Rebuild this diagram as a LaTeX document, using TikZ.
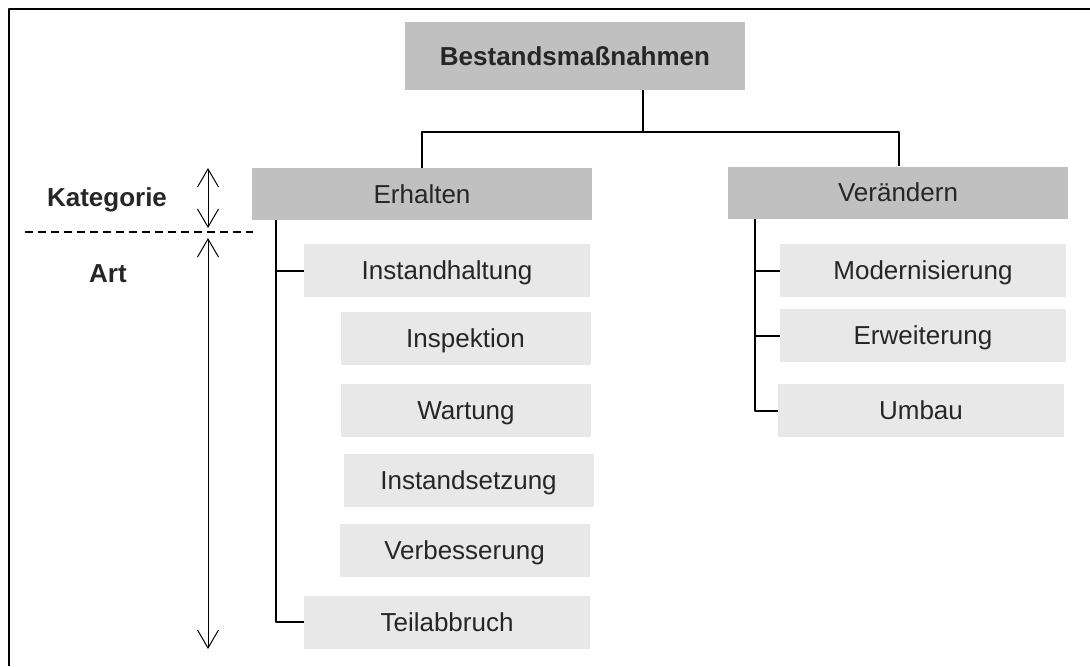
\documentclass[tikz,border=0pt]{standalone}
\usepackage{fontspec}
\setmainfont{Liberation Sans}
\usetikzlibrary{arrows.meta}
\definecolor{boxdark}{HTML}{C0C0C0}
\definecolor{boxlight}{HTML}{E8E8E8}
\definecolor{txt}{HTML}{262626}
\begin{document}
\begin{tikzpicture}[x=0.5pt,y=-0.5pt, font=\fontsize{13}{15}\selectfont, line join=round,
	box/.style={text=txt, inner sep=0pt, text height=9.3pt, text depth=0pt},
	topbox/.style={box, fill=boxdark, font=\fontsize{13}{15}\selectfont\bfseries, minimum width=170pt, minimum height=34pt},
	catbox/.style={box, fill=boxdark, minimum width=170pt, minimum height=26pt},
	artbox/.style={box, fill=boxlight, minimum width=143pt, minimum height=26.5pt},
	subbox/.style={artbox, minimum width=125pt},
	conn/.style={line width=1pt, black},
	span/.style={line width=0.5pt, {Straight Barb[length=9pt,width=10.5pt]}-{Straight Barb[length=9pt,width=10.5pt]}}]
	\useasboundingbox (0,0) rectangle (1090,666);
	% --- Rahmen ---
	\draw[line width=1.3pt] (9,666)--(9,9)--(1090,9);
	
	% --- Kästen ---
	\node[topbox] (bm) at (575,56) {Bestandsmaßnahmen};
	\node[catbox] (erh) at (422,194) {Erhalten};
	\node[catbox] (ver) at (898,192.5) {Verändern};
	
	\node[artbox] (ih) at (447,270.5) {Instandhaltung};
	\node[subbox] (insp) at (465.5,338.5) {Inspektion};
	\node[subbox] (wart) at (466,410.5) {Wartung};
	\node[subbox] (inst) at (468.5,480.5) {Instandsetzung};
	\node[subbox] (verb) at (464.5,550.5) {Verbesserung};
	\node[artbox] (teil) at (447,622) {Teilabbruch};
	
	\node[artbox] (mod) at (923,270.5) {Modernisierung};
	\node[artbox] (erw) at (923,335.5) {Erweiterung};
	\node[artbox] (umb) at (921,410.5) {Umbau};
	
	% --- Verbindungen ---
	\coordinate (jm) at (643,132);
	\coordinate (jl) at (422,132);
	\coordinate (jr) at (899,132);
	\coordinate (tl) at (276,0);
	\coordinate (tr) at (755,0);
	\draw[conn] (bm.south -| jm)--(jm);
	\draw[conn] (erh.north -| jl)--(jl)--(jr)--(ver.north -| jr);
	
	\draw[conn] (erh.south -| tl) |- (teil.west);
	\draw[conn] (ih.west)--(ih.west -| tl);
	\draw[conn] (ver.south -| tr) |- (umb.west);
	\foreach \n in {mod,erw}
		\draw[conn] (\n.west)--(\n.west -| tr);
	
	% --- Ebenen ---
	\node[box, font=\fontsize{13}{15}\selectfont\bfseries] (kat) at (107,197) {Kategorie};
	\node[box, font=\fontsize{13}{15}\selectfont\bfseries] (art) at (108,273) {Art};
	\coordinate (k1) at (208,168);
	\coordinate (k2) at (208,228);
	\coordinate (a1) at (208,238);
	\coordinate (a2) at (208,649);
	\coordinate (d1) at (25,232);
	\coordinate (d2) at (253,232);
	\draw[span] (k1)--(k2);
	\draw[span] (a1)--(a2);
	\draw[line width=0.75pt, dash pattern=on 4pt off 2.5pt] (d1)--(d2);
\end{tikzpicture}
\end{document}
